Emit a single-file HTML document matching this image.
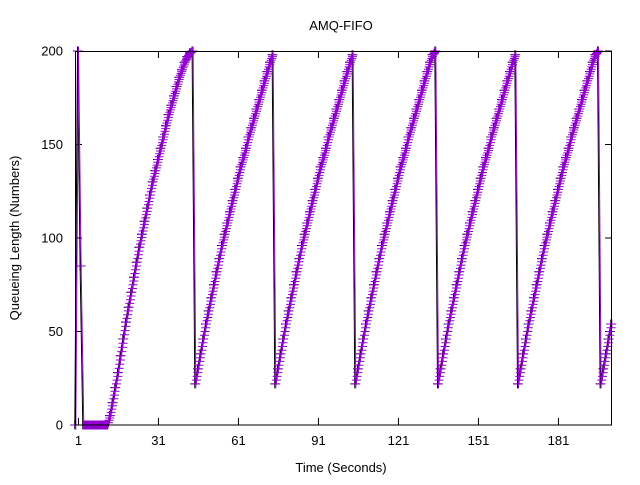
<!DOCTYPE html>
<html><head><meta charset="utf-8"><style>
body{margin:0;background:#fff;}
svg text{font-family:"Liberation Sans","DejaVu Sans",sans-serif;font-size:13px;fill:#000;}
</style></head><body>
<svg id="chart" width="640" height="480" xmlns="http://www.w3.org/2000/svg">
<rect width="640" height="480" fill="#fff"/>
<text x="341" y="30" text-anchor="middle">AMQ-FIFO</text>
<text transform="translate(19,238) rotate(-90)" text-anchor="middle">Queueing Length (Numbers)</text>
<text x="341" y="472" text-anchor="middle">Time (Seconds)</text>
<g id="axes"></g>
<g id="series"></g>
<rect x="75.5" y="51.5" width="536" height="373.5" fill="none" stroke="#000" stroke-width="1"/>
</svg>
<script>
const xTicks=[1,31,61,91,121,151,181];
const yTicks=[0,50,100,150,200];
const queueValues=[0,200,85,0,0,0,0,0,0,0,0,0,0,
5,12,20,28,37,46,55,63,71,79,87,95,102,109,116,123,130,136,142,148,154,160,166,171,176,181,186,190,194,197,199,200,
22,30,38,46,54,61,68,75,82,89,96,102,108,114,120,126,132,138,143,148,154,159,164,169,174,179,184,189,194,198,
22,30,38,46,54,61,68,75,82,89,96,102,108,114,120,126,132,138,143,148,154,159,164,169,174,179,184,189,194,198,
22,30,38,46,54,61,68,75,82,89,96,102,108,114,120,126,132,138,143,148,154,159,164,169,174,179,184,189,194,198,
200,
22,30,38,46,54,61,68,75,82,89,96,102,108,114,120,126,132,138,143,148,154,159,164,169,174,179,184,189,194,198,
22,30,38,46,54,61,68,75,82,89,96,102,108,114,120,126,132,138,143,148,154,159,164,169,174,179,184,189,194,198,
200,
22,30,38,46,54];
const blackValues=queueValues;
const X0=75.8,XS=(611.8-75.8)/201;
const sx=t=>X0+t*XS;
const sy=v=>425-v*(374/200);
const NS="http://www.w3.org/2000/svg";
const axes=document.getElementById('axes');
function mk(tag,attrs,parent){const e=document.createElementNS(NS,tag);for(const k in attrs)e.setAttribute(k,attrs[k]);parent.appendChild(e);return e;}
xTicks.forEach(t=>{
  const x=sx(t);
  const l=mk('path',{d:`M${x},425V418M${x},51V58`,stroke:'#000','stroke-width':1},axes);
  
  
  const tx=mk('text',{x:x,y:445,'text-anchor':'middle'},axes);tx.textContent=t;
  
  
});
yTicks.forEach(v=>{
  const y=sy(v);
  const l=mk('path',{d:`M75,${y}H82M612,${y}H605`,stroke:'#000','stroke-width':1},axes);
  
  
  const tx=mk('text',{x:63,y:y+4.5,'text-anchor':'end'},axes);tx.textContent=v;
  
  
});
const ser=document.getElementById('series');
function plus(x,y){return `M${(x-4.5).toFixed(1)},${y.toFixed(1)}h9M${x.toFixed(1)},${(y-4.5).toFixed(1)}v9`;}
function drawSeries(vals,color,name,dx,dense){
  const g=mk('g',{},ser);
  
  
  let d='',m='';
  vals.forEach((v,i)=>{const x=sx(i)+dx,y=sy(v);d+=(i?'L':'M')+x.toFixed(1)+','+y.toFixed(1);
    m+=plus(x,y);
    if(dense&&i+1<vals.length){const v2=vals[i+1];
      if(Math.abs(v2-v)<20){for(let k=1;k<4;k++){const f=k/4;m+=plus(x+f*XS,sy(v+(v2-v)*f));}}}
  });
  const p=mk('path',{d:d,fill:'none',stroke:color,'stroke-width':1},g);
  
  
  const q=mk('path',{d:m,fill:'none',stroke:color,'stroke-width':1},g);
  
  
}
drawSeries(blackValues,'#000','black-series',-1,false);
drawSeries(queueValues,'#9400d3','purple-series',0,true);
</script>
</body></html>
